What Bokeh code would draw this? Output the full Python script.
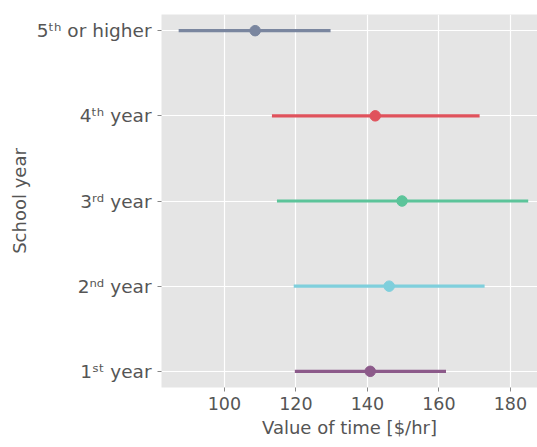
from bokeh.plotting import figure
from bokeh.models import Range1d, FixedTicker, ColumnDataSource
from bokeh.embed import file_html
from bokeh.resources import INLINE

categories = ["1\u02e2\u1d57 year", "2\u207f\u1d48 year", "3\u02b3\u1d48 year", "4\u1d57\u02b0 year", "5\u1d57\u02b0 or higher"]
means = [140.8, 146.1, 149.7, 142.2, 108.6]
lows = [119.7, 119.4, 114.7, 113.3, 87.2]
highs = [162.0, 172.8, 185.0, 171.4, 129.7]
colors = ["#8c5a8a", "#7fcfdc", "#5cc49a", "#e0525c", "#7a869f"]

ypos = list(range(len(categories)))
src = ColumnDataSource(dict(y=ypos, m=means, lo=lows, hi=highs, c=colors))

p = figure(width=537, height=447, output_backend="svg", toolbar_location=None,
           x_range=Range1d(82.4, 187.6), y_range=Range1d(-0.19, 4.19),
           min_border_left=161, min_border_right=0, min_border_top=14, min_border_bottom=60)

p.background_fill_color = "#e5e5e5"
p.border_fill_color = "white"
p.outline_line_color = None
p.grid.grid_line_color = "white"
p.grid.grid_line_width = 1.2

p.segment(x0="lo", x1="hi", y0="y", y1="y", line_color="c", line_width=3.2, source=src)
p.scatter(x="m", y="y", size=10.5, fill_color="c", line_color="c", source=src)

p.yaxis.ticker = FixedTicker(ticks=ypos)
p.yaxis.major_label_overrides = {i: c for i, c in enumerate(categories)}
p.xaxis.ticker = FixedTicker(ticks=[100, 120, 140, 160, 180])

for ax in (p.xaxis[0], p.yaxis[0]):
    ax.axis_line_color = None
    ax.major_tick_line_color = "#888888"
    ax.major_tick_in = 0
    ax.major_tick_out = 4
    ax.minor_tick_line_color = None
    ax.major_label_text_font = "DejaVu Sans"
    ax.major_label_text_color = "#555555"
    ax.axis_label_text_font = "DejaVu Sans"
    ax.axis_label_text_font_size = "18px"
    ax.axis_label_text_color = "#555555"
    ax.axis_label_text_font_style = "normal"

p.xaxis.major_label_text_font_size = "17.5px"
p.yaxis.major_label_text_font_size = "18.5px"
p.xaxis.axis_label = "Value of time [$/hr]"
p.yaxis.axis_label = "School year"
p.xaxis.major_label_standoff = 5
p.yaxis.major_label_standoff = 6
p.xaxis.axis_label_standoff = 4
p.yaxis.axis_label_standoff = 4

open("out.html", "w").write(file_html(p, INLINE))
